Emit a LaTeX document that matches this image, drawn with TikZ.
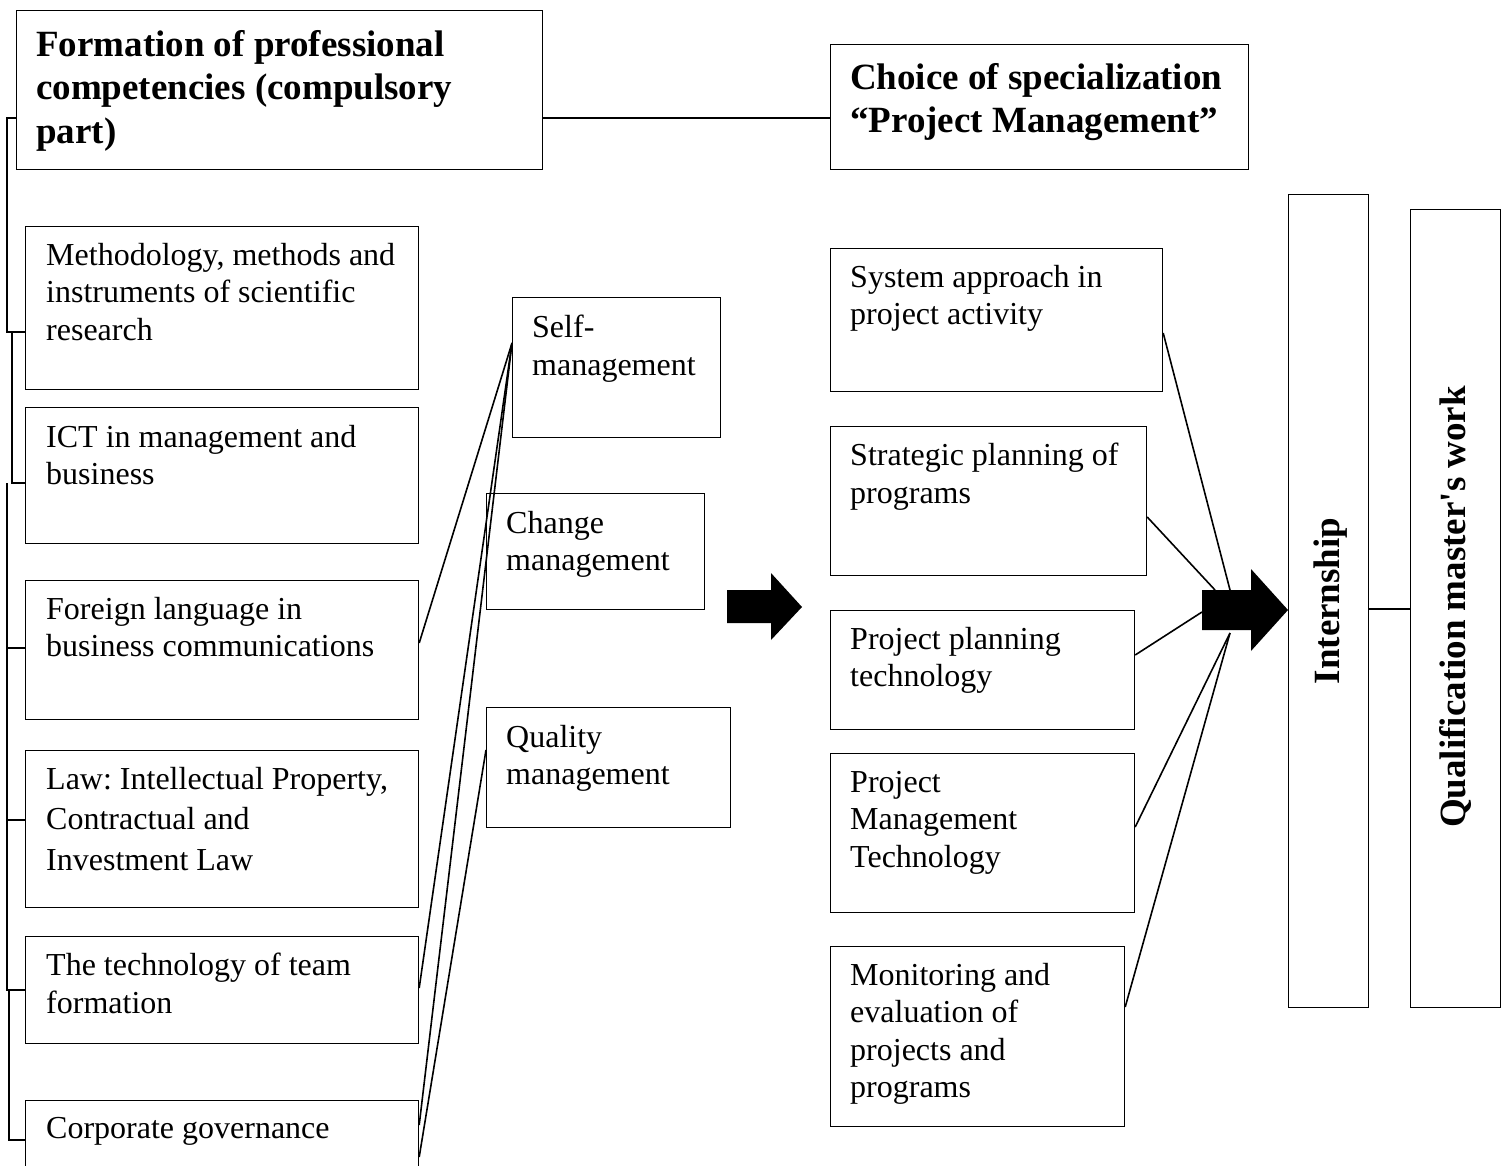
\documentclass[tikz,border=0pt]{standalone}
\usepackage{fontspec}
\setmainfont{Liberation Serif}
\frenchspacing
\begin{document}
\begin{tikzpicture}[x=1pt,y=-1pt,
  box/.style={draw, line width=1.2pt, inner sep=0pt, anchor=north west},
  body/.style={font=\fontsize{32}{37.5}\selectfont, align=left, inner sep=0pt, anchor=north west},
  head/.style={font=\fontsize{37}{43.5}\selectfont\bfseries, align=left, inner sep=0pt},
  link/.style={line width=1.6pt},
  bracket/.style={line width=1.6pt},
  bigarrow/.style={fill=black, draw=none}]
\useasboundingbox (0,0) rectangle (1505,1166);
\clip (0,0) rectangle (1505,1166);
% headings
\node[box, minimum width=526pt, minimum height=159pt] (form) at (16,10) {};
\node[head, anchor=north west] (formT) at (36,30) {Formation of professional\\competencies (compulsory\\part)};
\node[box, minimum width=418pt, minimum height=125pt] (choice) at (830,44) {};
\node[head, anchor=north west] (choiceT) at (850,63) {Choice of specialization\\“Project Management”};
% left column
\node[box, minimum width=393pt, minimum height=163pt] (meth) at (25,226) {};
\node[body] (methT) at (46,243) {Methodology, methods and\\instruments of scientific\\research};
\node[box, minimum width=393pt, minimum height=136pt] (ict) at (25,407) {};
\node[body] (ictT) at (46,425) {ICT in management and\\business};
\node[box, minimum width=393pt, minimum height=139pt] (foreign) at (25,580) {};
\node[body] (foreignT) at (46,597) {Foreign language in\\business communications};
\node[box, minimum width=393pt, minimum height=157pt] (law) at (25,750) {};
\node[body, font=\fontsize{32}{40.5}\selectfont] (lawT) at (46,767) {Law: Intellectual Property,\\Contractual and\\Investment Law};
\node[box, minimum width=393pt, minimum height=107pt] (team) at (25,936) {};
\node[body] (teamT) at (46,953) {The technology of team\\formation};
\node[box, minimum width=393pt, minimum height=100pt] (corp) at (25,1100) {};
\node[body] (corpT) at (46,1117) {Corporate governance};
% middle column
\node[box, minimum width=208pt, minimum height=140pt] (self) at (512,297) {};
\node[body] (selfT) at (532,315) {Self-\\management};
\node[box, minimum width=218pt, minimum height=116pt] (change) at (486,493) {};
\node[body] (changeT) at (506,511) {Change\\management};
\node[box, minimum width=244pt, minimum height=120pt] (quality) at (486,707) {};
\node[body] (qualityT) at (506,725) {Quality\\management};
% right column
\node[box, minimum width=332pt, minimum height=143pt] (sys) at (830,248) {};
\node[body] (sysT) at (850,265) {System approach in\\project activity};
\node[box, minimum width=316pt, minimum height=149pt] (strat) at (830,426) {};
\node[body] (stratT) at (850,443) {Strategic planning of\\programs};
\node[box, minimum width=304pt, minimum height=119pt] (plan) at (830,610) {};
\node[body] (planT) at (850,627) {Project planning\\technology};
\node[box, minimum width=304pt, minimum height=159pt] (pmt) at (830,753) {};
\node[body] (pmtT) at (850,771) {Project\\Management\\Technology};
\node[box, minimum width=294pt, minimum height=180pt] (mon) at (830,946) {};
\node[body] (monT) at (850,963) {Monitoring and\\evaluation of\\projects and\\programs};
% vertical boxes
\node[box, minimum width=80pt, minimum height=813pt] (intern) at (1288,194) {};
\node[head, rotate=90] (internT) at (1331,601) {Internship};
\node[box, minimum width=90pt, minimum height=798pt] (qual) at (1410,209) {};
\node[head, rotate=90] (qualT) at (1455,607) {Qualification master\textquotesingle s work};
% big arrows
\draw[bigarrow] (727,590) -- (771,590) -- (771,573) -- (802,607) -- (771,640) -- (771,623) -- (727,623) -- cycle;
\draw[bigarrow] (1202,590) -- (1251,590) -- (1251,569) -- (1288,610) -- (1251,651) -- (1251,630) -- (1202,630) -- cycle;
\coordinate (a2t1) at (1230,590);
\coordinate (a2t2) at (1215,590);
\coordinate (a2l) at (1202,612);
\coordinate (a2b) at (1230,633);
% connectors
\draw[link] (form.east |- 0,118) -- (choice.west |- 0,118);
\draw[link] (self.west |- 0,343) -- (foreign.east |- 0,643);
\draw[link] (self.west |- 0,343) -- (team.east |- 0,988);
\draw[link] (self.west |- 0,343) -- (corp.east |- 0,1125);
\draw[link] (quality.west |- 0,750) -- (corp.east |- 0,1157);
\draw[link] (sys.east |- 0,333) -- (a2t1);
\draw[link] (strat.east |- 0,517) -- (a2t2);
\draw[link] (plan.east |- 0,655) -- (a2l);
\draw[link] (pmt.east |- 0,827) -- (a2b);
\draw[link] (mon.east |- 0,1007) -- (a2b);
\draw[link] (intern.east |- 0,609) -- (qual.west |- 0,609);
% left brackets
\draw[bracket] (form.west |- 0,118) -- (7,118) -- (7,332) -- (meth.west |- 0,332);
\draw[bracket] (12,332) -- (12,483) -- (ict.west |- 0,483);
\draw[bracket] (7,483) -- (7,990) -- (team.west |- 0,990);
\draw[bracket] (7,648) -- (foreign.west |- 0,648);
\draw[bracket] (7,820) -- (law.west |- 0,820);
\draw[bracket] (9,990) -- (9,1140) -- (corp.west |- 0,1140);
\end{tikzpicture}
\end{document}
